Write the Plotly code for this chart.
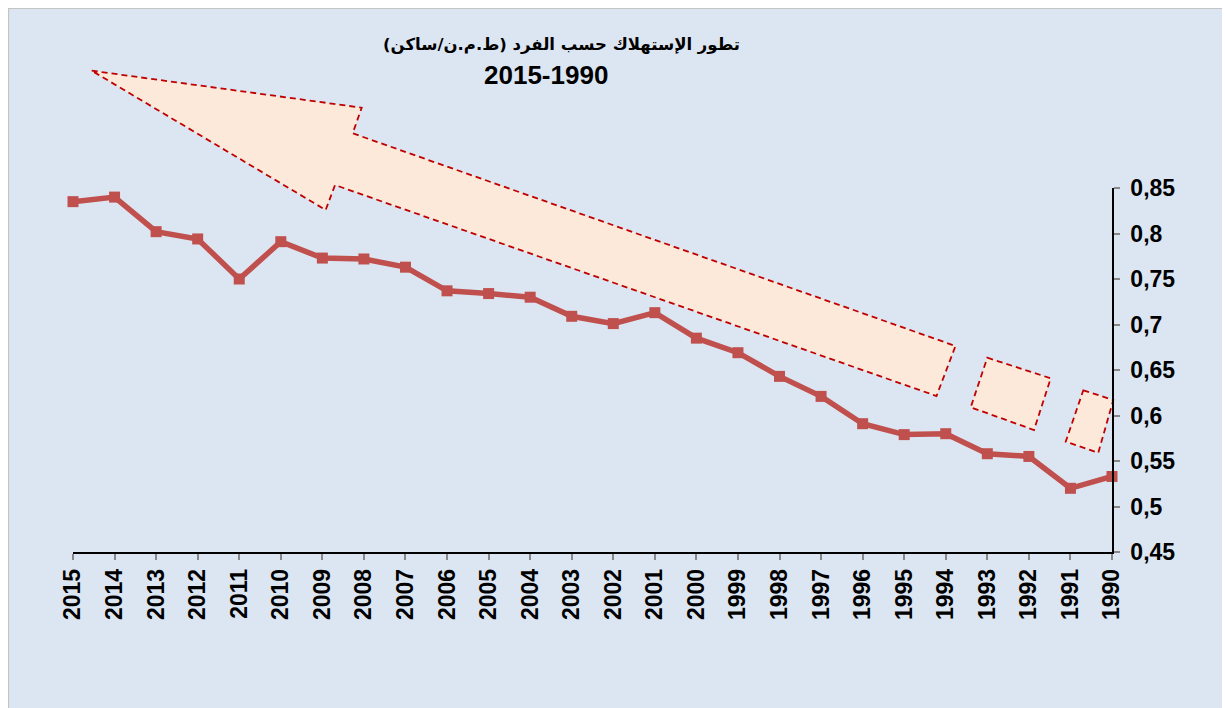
import plotly.graph_objects as go

# ---- data ----
years = ["2015", "2014", "2013", "2012", "2011", "2010", "2009", "2008", "2007",
         "2006", "2005", "2004", "2003", "2002", "2001", "2000", "1999", "1998",
         "1997", "1996", "1995", "1994", "1993", "1992", "1991", "1990"]
consumption = [0.835, 0.840, 0.802, 0.794, 0.750, 0.791, 0.773, 0.772, 0.763,
               0.737, 0.734, 0.730, 0.709, 0.701, 0.713, 0.685, 0.669, 0.643,
               0.621, 0.591, 0.579, 0.580, 0.558, 0.555, 0.520, 0.533]
y_ticks = [0.45, 0.5, 0.55, 0.6, 0.65, 0.7, 0.75, 0.8, 0.85]
title_line1 = "\u200fتطور الإستهلاك حسب الفرد (ط.م.ن/ساكن)\u200f"
title_line2 = "2015-1990"

# figure sits in the page with the default 8px body margin
OFF = 8
W, H = 1222, 700
PL, PT, PW, PH = 73 - OFF, 188 - OFF, 1039, 364   # plot area (figure px)
L, T = PL, PT
R, B = W - PL - PW, H - PT - PH


def px2paper(px, py):
    """page-pixel position -> paper coords"""
    fx, fy = px - OFF, py - OFF
    return (fx - PL) / PW, (PT + PH - fy) / PH


def path_from_px(points):
    pts = [px2paper(x, y) for x, y in points]
    return "M " + " L ".join(f"{x:.5f},{y:.5f}" for x, y in pts) + " Z"


fig = go.Figure()
fig.add_trace(go.Scatter(
    x=years, y=consumption, mode="lines+markers",
    line=dict(color="#C0504D", width=5.5),
    marker=dict(symbol="square", size=11, color="#C0504D"),
    cliponaxis=False, showlegend=False,
))

shapes = []
x0, y0 = px2paper(8, 8)
x1, y1 = px2paper(1240, 720)
shapes.append(dict(type="rect", xref="paper", yref="paper", x0=x0 + 0.0005, y0=y1, x1=x1, y1=y0 - 0.001,
                   fillcolor="#DCE6F2", line=dict(color="#C4C4C4", width=1.2), layer="below"))

arrow_style = dict(type="path", xref="paper", yref="paper", fillcolor="#FDE9D9",
                   line=dict(color="#C00000", width=1.8, dash="6px,4px"), layer="below")
arrow_main = [(91.7, 70.7), (361.7, 107.7), (352.7, 133.3), (955.5, 346),
              (936.5, 396), (335, 185), (325.7, 210)]
piece2 = [(987.3, 357.7), (1050.7, 378.3), (1034, 430), (970.7, 407.3)]
piece3 = [(1083.3, 390.3), (1113.3, 400), (1098.3, 452.7), (1065.7, 441.7)]
for poly in (arrow_main, piece2, piece3):
    shapes.append(dict(arrow_style, path=path_from_px(poly)))

t1x, t1y = px2paper(561, 45)
t2x, t2y = px2paper(546, 75)
font_fam = "Liberation Sans, Arial"
fig.update_layout(
    width=W, height=H,
    margin=dict(l=L, r=R, t=T, b=B, pad=0),
    paper_bgcolor="white", plot_bgcolor="rgba(0,0,0,0)",
    separators=", ",
    shapes=shapes,
    annotations=[
        dict(text=title_line1, xref="paper", yref="paper", x=t1x, y=t1y,
             xanchor="center", yanchor="middle", showarrow=False,
             font=dict(family="DejaVu Sans", size=16.5, color="black", weight="bold")),
        dict(text=title_line2, xref="paper", yref="paper", x=t2x, y=t2y,
             xanchor="center", yanchor="middle", showarrow=False,
             font=dict(family=font_fam, size=26, color="black", weight="bold")),
    ],
    xaxis=dict(
        type="category", range=[0, 25], showgrid=False, zeroline=False,
        showline=True, linecolor="black", linewidth=1.5,
        ticks="outside", ticklen=6, tickcolor="#888888", tickwidth=1.5,
        tickangle=-90,
        tickfont=dict(family=font_fam, size=23, color="black", weight="bold"),
    ),
    yaxis=dict(
        side="right", range=[0.45, 0.85], tickvals=y_ticks,
        showgrid=False, zeroline=False,
        showline=True, linecolor="black", linewidth=1.5,
        ticks="outside", ticklen=6, tickcolor="#888888", tickwidth=1.5,
        tickfont=dict(family=font_fam, size=23, color="black", weight="bold"),
        ticklabelstandoff=6,
    ),
)

fig.write_html("out.html")
